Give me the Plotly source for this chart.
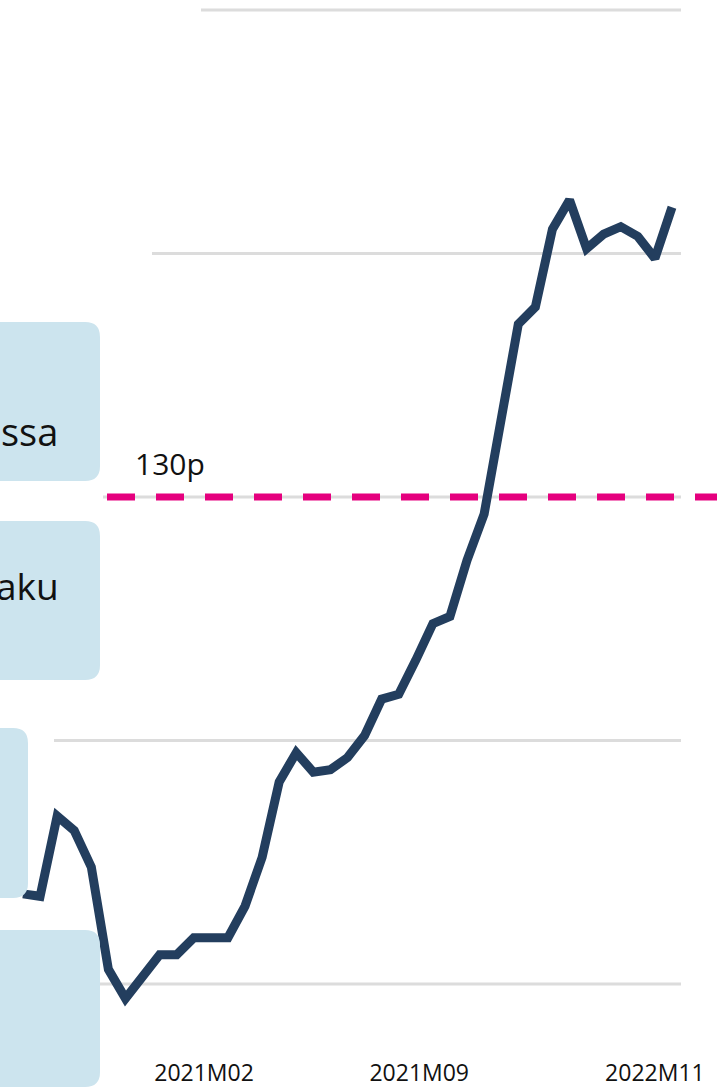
import plotly.graph_objects as go

# ---- data ----
index_values = list(range(39))
series_values = [113.7, 113.6, 116.9, 116.3, 114.8, 110.6, 109.4, 110.3, 111.2, 111.2,
                 111.9, 111.9, 111.9, 113.2, 115.2, 118.3, 119.5, 118.7, 118.8, 119.3,
                 120.2, 121.7, 121.9, 123.3, 124.8, 125.1, 127.4, 129.3, 133.2, 137.1,
                 137.8, 141.0, 142.2, 140.2, 140.8, 141.1, 140.7, 139.8, 141.9]
tick_positions = [10.6, 23.2, 37.0]
tick_labels = ["2021M02", "2021M09", "2022M11"]
grid_values = [110, 120, 130, 140, 150]
threshold_value = 130
threshold_label = "130p"
box_texts = ["ssa", "aku", "", ""]

# ---- geometry helpers (layout only) ----
W, H = 717, 1089
MB = 49
PH = H - MB


def px_x(px):
    return px / W


def px_y(py):
    return (PH - py) / PH


def rounded_rect(x0, y0, x1, y1, r):
    rx = r / W
    ry = r / PH
    X0, X1 = px_x(x0), px_x(x1)
    Yt, Yb = px_y(y0), px_y(y1)
    return (f"M {X0 + rx},{Yt} L {X1 - rx},{Yt} Q {X1},{Yt} {X1},{Yt - ry} "
            f"L {X1},{Yb + ry} Q {X1},{Yb} {X1 - rx},{Yb} "
            f"L {X0 + rx},{Yb} Q {X0},{Yb} {X0},{Yb + ry} "
            f"L {X0},{Yt - ry} Q {X0},{Yt} {X0 + rx},{Yt} Z")


fig = go.Figure()
fig.add_trace(go.Scatter(
    x=index_values, y=series_values, mode="lines",
    line=dict(color="#233e5e", width=9), hoverinfo="skip", showlegend=False))

shapes = []
grid_starts = [5, 54, 103, 152, 201]
for gv, gx in zip(grid_values, grid_starts):
    shapes.append(dict(type="line", xref="paper", yref="y", x0=px_x(gx), x1=px_x(681),
                       y0=gv, y1=gv, line=dict(color="#dcdcdc", width=3), layer="below"))
shapes.append(dict(type="line", xref="paper", yref="y", x0=px_x(107), x1=px_x(730),
                   y0=threshold_value, y1=threshold_value,
                   line=dict(color="#e5007e", width=7, dash="28px,21px"), layer="below"))

box_rects = [(-30, 322, 100, 481), (-30, 521, 100, 680), (-30, 728, 28, 898), (-30, 930, 100, 1087)]
for (x0, y0, x1, y1) in box_rects:
    shapes.append(dict(type="path", xref="paper", yref="paper",
                       path=rounded_rect(x0, y0, x1, y1, 15),
                       fillcolor="#cce4ee", line=dict(width=0), layer="above"))

annotations = [
    dict(text=threshold_label, xref="paper", yref="paper", x=px_x(133), y=px_y(464),
         xanchor="left", yanchor="middle", showarrow=False,
         font=dict(family="Open Sans", size=30, color="#111111")),
    dict(text=box_texts[0], xref="paper", yref="paper", x=px_x(60), y=px_y(431),
         xanchor="right", yanchor="middle", showarrow=False,
         font=dict(family="Open Sans", size=38, color="#111111")),
    dict(text=box_texts[1], xref="paper", yref="paper", x=px_x(61), y=px_y(585),
         xanchor="right", yanchor="middle", showarrow=False,
         font=dict(family="Open Sans", size=37, color="#111111")),
]

fig.update_layout(
    width=W, height=H,
    margin=dict(l=0, r=0, t=0, b=MB, autoexpand=False),
    paper_bgcolor="white", plot_bgcolor="white",
    shapes=shapes, annotations=annotations,
    xaxis=dict(range=[-23 / 17.079, 38 + 45 / 17.079], showgrid=False, zeroline=False,
               showline=False, ticks="", tickmode="array", tickvals=tick_positions,
               ticktext=tick_labels, ticklabelstandoff=17, automargin=False,
               tickfont=dict(family="Open Sans", size=23, color="#111111")),
    yaxis=dict(range=[107.70, 150.41], showgrid=False, zeroline=False, showline=False,
               showticklabels=False, automargin=False),
)

fig.write_html("out.html", config={"displayModeBar": False},
               post_script="document.body.style.margin='0px';")
